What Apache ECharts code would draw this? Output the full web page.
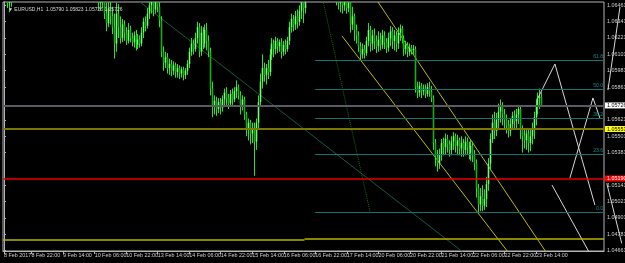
<!DOCTYPE html>
<html><head><meta charset="utf-8">
<script src="https://cdn.jsdelivr.net/npm/echarts@6/dist/echarts.min.js"></script>
<style>html,body{margin:0;padding:0;background:#000;}#c{width:625px;height:263px;}</style>
</head><body><div id="c"></div>
<script>
// ---- data (EURUSD H1, bar 0 = 8 Feb 2017 08:00) ----
const opens = [
1.0672,1.0668,1.0660,1.0648,1.0650,1.0658,1.0665,1.0670,1.0674,1.0678,
1.0676,1.0680,1.0684,1.0688,1.0685,1.0690,1.0695,1.0692,1.0698,1.0702,
1.0705,1.0700,1.0696,1.0690,1.0693,1.0688,1.0684,1.0686,1.0690,1.0694,
1.0697,1.0700,1.0704,1.0708,1.0712,1.0706,1.0700,1.0694,1.0690,1.0686,
1.0680,1.0676,1.0672,1.0675,1.0670,1.0666,1.0663,1.0661,1.0660,1.0648,
1.0655,1.0650,1.0640,1.0633,1.0644,1.0638,1.0630,1.0618,1.0640,1.0630,
1.0622,1.0632,1.0626,1.0620,1.0628,1.0622,1.0619,1.0624,1.0617,1.0621,
1.0618,1.0626,1.0634,1.0631,1.0640,1.0646,1.0650,1.0643,1.0652,1.0645,
1.0635,1.0612,1.0604,1.0608,1.0600,1.0603,1.0598,1.0602,1.0597,1.0600,
1.0596,1.0599,1.0595,1.0598,1.0603,1.0612,1.0618,1.0614,1.0622,1.0630,
1.0612,1.0626,1.0618,1.0628,1.0620,1.0612,1.0585,1.0572,1.0576,1.0570,
1.0575,1.0571,1.0577,1.0582,1.0578,1.0574,1.0581,1.0577,1.0583,1.0586,
1.0580,1.0573,1.0577,1.0566,1.0556,1.0560,1.0552,1.0556,1.0546,1.0560,
1.0575,1.0590,1.0600,1.0595,1.0600,1.0597,1.0610,1.0618,1.0614,1.0620,
1.0616,1.0619,1.0612,1.0617,1.0614,1.0620,1.0630,1.0636,1.0632,1.0638,
1.0634,1.0642,1.0650,1.0644,1.0655,1.0662,1.0668,1.0674,1.0670,1.0676,
1.0672,1.0668,1.0671,1.0666,1.0669,1.0664,1.0667,1.0663,1.0660,1.0658,
1.0652,1.0648,1.0653,1.0646,1.0650,1.0644,1.0648,1.0632,1.0638,1.0628,
1.0624,1.0616,1.0610,1.0614,1.0611,1.0620,1.0628,1.0618,1.0624,1.0620,
1.0616,1.0621,1.0617,1.0624,1.0619,1.0615,1.0622,1.0627,1.0620,1.0624,
1.0618,1.0626,1.0629,1.0622,1.0614,1.0617,1.0612,1.0615,1.0613,1.0614,
1.0586,1.0582,1.0587,1.0583,1.0585,1.0581,1.0586,1.0583,1.0578,1.0545,
1.0535,1.0530,1.0537,1.0545,1.0542,1.0548,1.0544,1.0540,1.0546,1.0550,
1.0543,1.0547,1.0541,1.0545,1.0540,1.0546,1.0542,1.0538,1.0543,1.0536,
1.0530,1.0512,1.0500,1.0506,1.0499,1.0504,1.0515,1.0530,1.0548,1.0560,
1.0554,1.0562,1.0568,1.0572,1.0566,1.0562,1.0558,1.0554,1.0559,1.0565,
1.0561,1.0566,1.0570,1.0556,1.0550,1.0547,1.0552,1.0545,1.0550,1.0556,
1.0564,1.0572,1.0578,1.05790];
const closes = [
1.0668,1.0660,1.0648,1.0650,1.0658,1.0665,1.0670,1.0674,1.0678,1.0676,
1.0680,1.0684,1.0688,1.0685,1.0690,1.0695,1.0692,1.0698,1.0702,1.0705,
1.0700,1.0696,1.0690,1.0693,1.0688,1.0684,1.0686,1.0690,1.0694,1.0697,
1.0700,1.0704,1.0708,1.0712,1.0706,1.0700,1.0694,1.0690,1.0686,1.0680,
1.0676,1.0672,1.0675,1.0670,1.0666,1.0663,1.0661,1.0660,1.0648,1.0655,
1.0650,1.0640,1.0633,1.0644,1.0638,1.0630,1.0618,1.0640,1.0630,1.0622,
1.0632,1.0626,1.0620,1.0628,1.0622,1.0619,1.0624,1.0617,1.0621,1.0618,
1.0626,1.0634,1.0631,1.0640,1.0646,1.0650,1.0643,1.0652,1.0645,1.0635,
1.0612,1.0604,1.0608,1.0600,1.0603,1.0598,1.0602,1.0597,1.0600,1.0596,
1.0599,1.0595,1.0598,1.0603,1.0612,1.0618,1.0614,1.0622,1.0630,1.0612,
1.0626,1.0618,1.0628,1.0620,1.0612,1.0585,1.0572,1.0576,1.0570,1.0575,
1.0571,1.0577,1.0582,1.0578,1.0574,1.0581,1.0577,1.0583,1.0586,1.0580,
1.0573,1.0577,1.0566,1.0556,1.0560,1.0552,1.0556,1.0546,1.0560,1.0575,
1.0590,1.0600,1.0595,1.0600,1.0597,1.0610,1.0618,1.0614,1.0620,1.0616,
1.0619,1.0612,1.0617,1.0614,1.0620,1.0630,1.0636,1.0632,1.0638,1.0634,
1.0642,1.0650,1.0644,1.0655,1.0662,1.0668,1.0674,1.0670,1.0676,1.0672,
1.0668,1.0671,1.0666,1.0669,1.0664,1.0667,1.0663,1.0660,1.0658,1.0652,
1.0648,1.0653,1.0646,1.0650,1.0644,1.0648,1.0632,1.0638,1.0628,1.0624,
1.0616,1.0610,1.0614,1.0611,1.0620,1.0628,1.0618,1.0624,1.0620,1.0616,
1.0621,1.0617,1.0624,1.0619,1.0615,1.0622,1.0627,1.0620,1.0624,1.0618,
1.0626,1.0629,1.0622,1.0614,1.0617,1.0612,1.0615,1.0613,1.0614,1.0586,
1.0582,1.0587,1.0583,1.0585,1.0581,1.0586,1.0583,1.0578,1.0545,1.0535,
1.0530,1.0537,1.0545,1.0542,1.0548,1.0544,1.0540,1.0546,1.0550,1.0543,
1.0547,1.0541,1.0545,1.0540,1.0546,1.0542,1.0538,1.0543,1.0536,1.0530,
1.0512,1.0500,1.0506,1.0499,1.0504,1.0515,1.0530,1.0548,1.0560,1.0554,
1.0562,1.0568,1.0572,1.0566,1.0562,1.0558,1.0554,1.0559,1.0565,1.0561,
1.0566,1.0570,1.0556,1.0550,1.0547,1.0552,1.0545,1.0550,1.0556,1.0564,
1.0572,1.0578,1.0579,1.05726];
const lows = [
1.0662,1.0655,1.0644,1.0641,1.0645,1.0654,1.0660,1.0666,1.0670,1.0671,
1.0672,1.0676,1.0680,1.0681,1.0682,1.0686,1.0688,1.0689,1.0694,1.0698,
1.0696,1.0691,1.0686,1.0686,1.0684,1.0679,1.0680,1.0682,1.0686,1.0690,
1.0693,1.0696,1.0700,1.0704,1.0702,1.0696,1.0690,1.0686,1.0682,1.0676,
1.0672,1.0667,1.0668,1.0665,1.0661,1.0658,1.0656,1.0655,1.0643,1.0642,
1.0644,1.0636,1.0627,1.0630,1.0632,1.0625,1.0607,1.0612,1.0622,1.0618,
1.0619,1.0620,1.0617,1.0618,1.0619,1.0616,1.0615,1.0613,1.0614,1.0615,
1.0616,1.0622,1.0627,1.0629,1.0636,1.0640,1.0638,1.0640,1.0641,1.0630,
1.0608,1.0598,1.0600,1.0596,1.0595,1.0594,1.0595,1.0593,1.0593,1.0592,
1.0593,1.0591,1.0592,1.0595,1.0600,1.0609,1.0610,1.0612,1.0618,1.0608,
1.0609,1.0614,1.0615,1.0613,1.0608,1.0580,1.0564,1.0566,1.0565,1.0567,
1.0566,1.0568,1.0572,1.0573,1.0570,1.0572,1.0573,1.0575,1.0578,1.0577,
1.0566,1.0569,1.0562,1.0550,1.0547,1.0544,1.0545,1.0521,1.0540,1.0555,
1.0572,1.0585,1.0590,1.0588,1.0592,1.0594,1.0606,1.0608,1.0610,1.0611,
1.0612,1.0607,1.0609,1.0610,1.0612,1.0617,1.0626,1.0627,1.0628,1.0629,
1.0631,1.0636,1.0633,1.0640,1.0651,1.0656,1.0662,1.0664,1.0666,1.0667,
1.0662,1.0663,1.0660,1.0661,1.0659,1.0658,1.0657,1.0655,1.0653,1.0646,
1.0643,1.0641,1.0640,1.0642,1.0640,1.0641,1.0626,1.0628,1.0620,1.0618,
1.0612,1.0606,1.0607,1.0607,1.0609,1.0616,1.0612,1.0613,1.0614,1.0611,
1.0612,1.0613,1.0614,1.0614,1.0611,1.0612,1.0616,1.0614,1.0613,1.0612,
1.0614,1.0620,1.0618,1.0609,1.0610,1.0608,1.0609,1.0610,1.0610,1.0582,
1.0578,1.0579,1.0578,1.0580,1.0578,1.0579,1.0579,1.0575,1.0540,1.0528,
1.0524,1.0526,1.0532,1.0536,1.0537,1.0538,1.0535,1.0536,1.0540,1.0538,
1.0536,1.0536,1.0535,1.0535,1.0536,1.0537,1.0533,1.0532,1.0531,1.0525,
1.0505,1.0494,1.0495,1.0495,1.0496,1.0498,1.0510,1.0525,1.0545,1.0548,
1.0550,1.0556,1.0560,1.0558,1.0555,1.0552,1.0549,1.0550,1.0555,1.0555,
1.0556,1.0559,1.0548,1.0538,1.0541,1.0540,1.0538,1.0539,1.0544,1.0548,
1.0558,1.0566,1.0570,1.05726];
const highs = [
1.0676,1.0670,1.0662,1.0656,1.0661,1.0668,1.0674,1.0678,1.0682,1.0683,
1.0684,1.0688,1.0692,1.0691,1.0694,1.0699,1.0698,1.0702,1.0706,1.0709,
1.0708,1.0703,1.0699,1.0697,1.0696,1.0691,1.0690,1.0694,1.0698,1.0701,
1.0704,1.0708,1.0712,1.0716,1.0715,1.0709,1.0703,1.0697,1.0693,1.0689,
1.0683,1.0679,1.0678,1.0678,1.0673,1.0669,1.0667,1.0665,1.0662,1.0660,
1.0658,1.0653,1.0648,1.0652,1.0650,1.0645,1.0640,1.0648,1.0647,1.0638,
1.0636,1.0635,1.0630,1.0633,1.0631,1.0626,1.0627,1.0628,1.0625,1.0624,
1.0630,1.0637,1.0638,1.0644,1.0652,1.0656,1.0655,1.0658,1.0656,1.0649,
1.0638,1.0616,1.0612,1.0611,1.0607,1.0606,1.0605,1.0604,1.0603,1.0602,
1.0601,1.0601,1.0600,1.0606,1.0615,1.0622,1.0621,1.0626,1.0634,1.0633,
1.0631,1.0630,1.0632,1.0633,1.0624,1.0615,1.0590,1.0580,1.0579,1.0578,
1.0578,1.0580,1.0585,1.0586,1.0581,1.0584,1.0585,1.0586,1.0591,1.0588,
1.0583,1.0580,1.0579,1.0568,1.0563,1.0562,1.0560,1.0560,1.0563,1.0580,
1.0596,1.0610,1.0604,1.0603,1.0606,1.0614,1.0622,1.0621,1.0623,1.0622,
1.0621,1.0622,1.0620,1.0621,1.0623,1.0634,1.0640,1.0639,1.0642,1.0643,
1.0646,1.0655,1.0656,1.0662,1.0666,1.0672,1.0678,1.0679,1.0680,1.0679,
1.0675,1.0674,1.0673,1.0672,1.0671,1.0670,1.0669,1.0666,1.0664,1.0662,
1.0656,1.0657,1.0656,1.0655,1.0654,1.0653,1.0650,1.0645,1.0640,1.0632,
1.0627,1.0619,1.0618,1.0617,1.0623,1.0633,1.0631,1.0628,1.0629,1.0624,
1.0627,1.0626,1.0628,1.0627,1.0622,1.0626,1.0631,1.0630,1.0628,1.0627,
1.0630,1.0632,1.0631,1.0624,1.0620,1.0619,1.0618,1.0617,1.0617,1.0616,
1.0590,1.0590,1.0589,1.0588,1.0588,1.0589,1.0590,1.0587,1.0580,1.0548,
1.0540,1.0541,1.0548,1.0549,1.0552,1.0551,1.0547,1.0550,1.0553,1.0552,
1.0551,1.0549,1.0550,1.0548,1.0550,1.0549,1.0546,1.0548,1.0546,1.0540,
1.0533,1.0515,1.0512,1.0514,1.0511,1.0520,1.0534,1.0552,1.0566,1.0568,
1.0567,1.0574,1.0577,1.0575,1.0570,1.0566,1.0562,1.0563,1.0568,1.0569,
1.0570,1.0573,1.0572,1.0558,1.0555,1.0556,1.0555,1.0556,1.0560,1.0568,
1.0577,1.0582,1.0585,1.05823];

const totalSlots = 305;               // bars incl. empty right shift
const xLabelText = ['8 Feb 2017','8 Feb 22:00','9 Feb 14:00','10 Feb 06:00','10 Feb 22:00','13 Feb 14:00',
  '14 Feb 06:00','14 Feb 22:00','15 Feb 14:00','16 Feb 06:00','16 Feb 22:00','17 Feb 14:00',
  '20 Feb 06:00','20 Feb 22:00','21 Feb 14:00','22 Feb 06:00','22 Feb 22:00','23 Feb 14:00'];
const xLabelBars = [0,14,30,46,62,78,94,110,126,142,158,174,190,206,222,238,254,270];
const yTickValues = [1.04661,1.04781,1.04901,1.05021,1.05141,1.05381,1.05501,1.05621,1.05861,1.05981,1.06101,1.06221,1.06341,1.06461];
const yMin = 1.04658, yMax = 1.06485;
const titleText = '\u25BC EURUSD,H1  1.05790 1.05823 1.05726 1.05726';

const bidLevel = 1.05726, yellowLevel = 1.05553, redLevel = 1.05190;
const floorLevelA = 1.04737, floorLevelB = 1.04745, floorBreakBar = 152.5;
const fibLow = 1.04944, fibHigh = 1.06750, fibStartBar = 157.9, fibEndBar = 185.8;
const fibRatios = [0, 0.236, 0.382, 0.5, 0.618];
const fibText = ['0.0', '23.6', '38.2', '50.0', '61.8'];
const trendLine = [[69.0, 1.06485], [232.9, 1.04650]];
const channelUpper = [[189.8, 1.06485], [275.1, 1.04650]];
const channelLower = [[171.5, 1.06236], [255.8, 1.04650]];
const projA = [[271.0, 1.05781], [279.6, 1.06030], [299.9, 1.04995]];
const projB = [[287.2, 1.05194], [298.9, 1.05781], [302.4, 1.05634]];
const projC = [[278.1, 1.05142], [298.3, 1.04614]];
const projD = [[305.9, 1.05155], [313.5, 1.04714]];
const projE = [[306.5, 1.05839], [312.6, 1.06448]];

// ---- chart ----
const FONT = 'Liberation Sans';
const PX_PER_BAR = 601 / totalSlots;
const cats = Array.from({length: totalSlots}, (_, i) => String(i));
const labelAt = {};
xLabelBars.forEach((b, k) => { labelAt[b] = xLabelText[k]; });
const candleData = opens.map((o, i) => [i, o, closes[i], lows[i], highs[i]]);
const leftEdge = -0.5, rightEdge = totalSlots - 0.5;
const overlayRight = leftEdge + 622 / PX_PER_BAR;

function hLine(val, x0, x1, color, width, label) {
  const a = {coord: [x0, val], lineStyle: {color: color, width: width, type: 'solid'}};
  if (label) a.label = label;
  return [a, {coord: [x1, val]}];
}
function boxLabel(val, bg, fg) {
  return {show: true, position: 'end', distance: 1, formatter: val.toFixed(5),
    backgroundColor: bg, color: fg, fontSize: 5.4, fontFamily: FONT, padding: [1, 2, 0, 2]};
}
const fibLines = fibRatios.map((r, k) => hLine(fibLow + (fibHigh - fibLow) * r, fibStartBar, rightEdge, '#127474', 1,
  {show: true, position: 'insideEndTop', formatter: fibText[k], color: '#1a8a8a', fontSize: 5, fontFamily: FONT, distance: 1}));

function lineSeries(data, color, type, z, xi, yi) {
  return {type: 'line', xAxisIndex: xi || 1, yAxisIndex: yi || 0, data: data, showSymbol: false, symbol: 'none', silent: true,
    clip: true, z: z, lineStyle: {color: color, width: 1, type: type}, animation: false};
}

function renderCandle(params, api) {
  const i = api.value(0), o = api.value(1), c = api.value(2), l = api.value(3), h = api.value(4);
  const pH = api.coord([i, h]), pL = api.coord([i, l]), pO = api.coord([i, o]), pC = api.coord([i, c]);
  const x = Math.floor(pH[0]) + 0.5;
  const top = Math.min(pO[1], pC[1]);
  const bh = Math.max(1, Math.abs(pO[1] - pC[1]));
  const up = c >= o;
  return {type: 'group', children: [
    {type: 'line', shape: {x1: x, y1: pH[1], x2: x, y2: pL[1]}, style: {stroke: '#26e626', lineWidth: 1}},
    {type: 'rect', shape: {x: x - 0.8, y: top, width: 1.6, height: bh},
     style: {fill: up ? '#74fa74' : '#14b014', stroke: null}}
  ]};
}

const chart = echarts.init(document.getElementById('c'));
chart.setOption({
  backgroundColor: '#000',
  animation: false,
  title: {text: titleText, left: 3, top: 2, textStyle: {color: '#d8d8d8', fontSize: 5, fontWeight: 'normal', fontFamily: FONT}},
  grid: [
    {left: 3, right: 21, top: 2, bottom: 12, show: true, borderColor: '#b4b4b4', borderWidth: 1, containLabel: false, outerBoundsMode: 'none'},
    {left: 3, right: 0, top: 2, bottom: 12, show: false, containLabel: false, outerBoundsMode: 'none'}
  ],
  xAxis: [{
    type: 'category', gridIndex: 0, data: cats, boundaryGap: true,
    axisLine: {show: true, lineStyle: {color: '#b4b4b4'}},
    axisTick: {show: true, alignWithLabel: true, length: 3, interval: (i) => labelAt[i] !== undefined, lineStyle: {color: '#b4b4b4'}},
    axisLabel: {interval: 0, formatter: (v, i) => labelAt[i] || '', color: '#d0d0d0', fontSize: 5.4, fontFamily: FONT, align: 'left', margin: 2, hideOverlap: false},
    splitLine: {show: false}
  }, {type: 'value', gridIndex: 0, min: leftEdge, max: rightEdge, show: false},
     {type: 'value', gridIndex: 1, min: leftEdge, max: overlayRight, show: false}],
  yAxis: [{
    type: 'value', gridIndex: 0, position: 'right', min: yMin, max: yMax,
    axisLine: {show: true, lineStyle: {color: '#b4b4b4'}},
    axisTick: {show: true, customValues: yTickValues, length: 2, lineStyle: {color: '#b4b4b4'}},
    axisLabel: {customValues: yTickValues, formatter: (v) => v.toFixed(5), color: '#d0d0d0', fontSize: 5.4, fontFamily: FONT, margin: 3},
    splitLine: {show: false}
  }, {type: 'value', gridIndex: 1, min: yMin, max: yMax, show: false}],
  series: [
    {type: 'line', xAxisIndex: 1, data: [[leftEdge, yMin]], symbol: 'none', showSymbol: false, lineStyle: {opacity: 0}, z: 1, silent: true,
     markLine: {symbol: 'none', silent: true, animation: false, label: {show: false},
       data: [
         hLine(bidLevel, leftEdge, rightEdge, '#5a5a64', 2, boxLabel(bidLevel, '#ffffff', '#000000')),
         hLine(yellowLevel, leftEdge, rightEdge, '#7a7a00', 2, boxLabel(yellowLevel, '#ffff00', '#000000')),
         hLine(redLevel, leftEdge, rightEdge, '#e80000', 1.5, boxLabel(redLevel, '#ff0000', '#ffffff')),
         hLine(floorLevelA, leftEdge, floorBreakBar, '#b4b400', 1.5),
         hLine(floorLevelB, floorBreakBar, rightEdge, '#b4b400', 1.5)
       ].concat(fibLines)}},
    lineSeries(trendLine, '#165a3a', 'solid', 2),
    lineSeries([[fibStartBar, fibHigh], [fibEndBar, fibLow]], '#1a6a1a', 'dotted', 2),
    lineSeries(channelUpper, '#bcbc00', 'solid', 2),
    lineSeries(channelLower, '#bcbc00', 'solid', 2),
    {type: 'custom', xAxisIndex: 0, yAxisIndex: 0, data: candleData, z: 3, clip: true, silent: true,
     encode: {x: 0, y: [1, 2, 3, 4]}, renderItem: renderCandle},
    lineSeries(projA, '#d8d8d8', 'solid', 4),
    lineSeries(projB, '#d8d8d8', 'solid', 4),
    lineSeries(projC, '#d8d8d8', 'solid', 4),
    lineSeries(projD, '#d8d8d8', 'solid', 4, 2, 1),
    lineSeries(projE, '#d8d8d8', 'solid', 4, 2, 1)
  ]
});
</script></body></html>
